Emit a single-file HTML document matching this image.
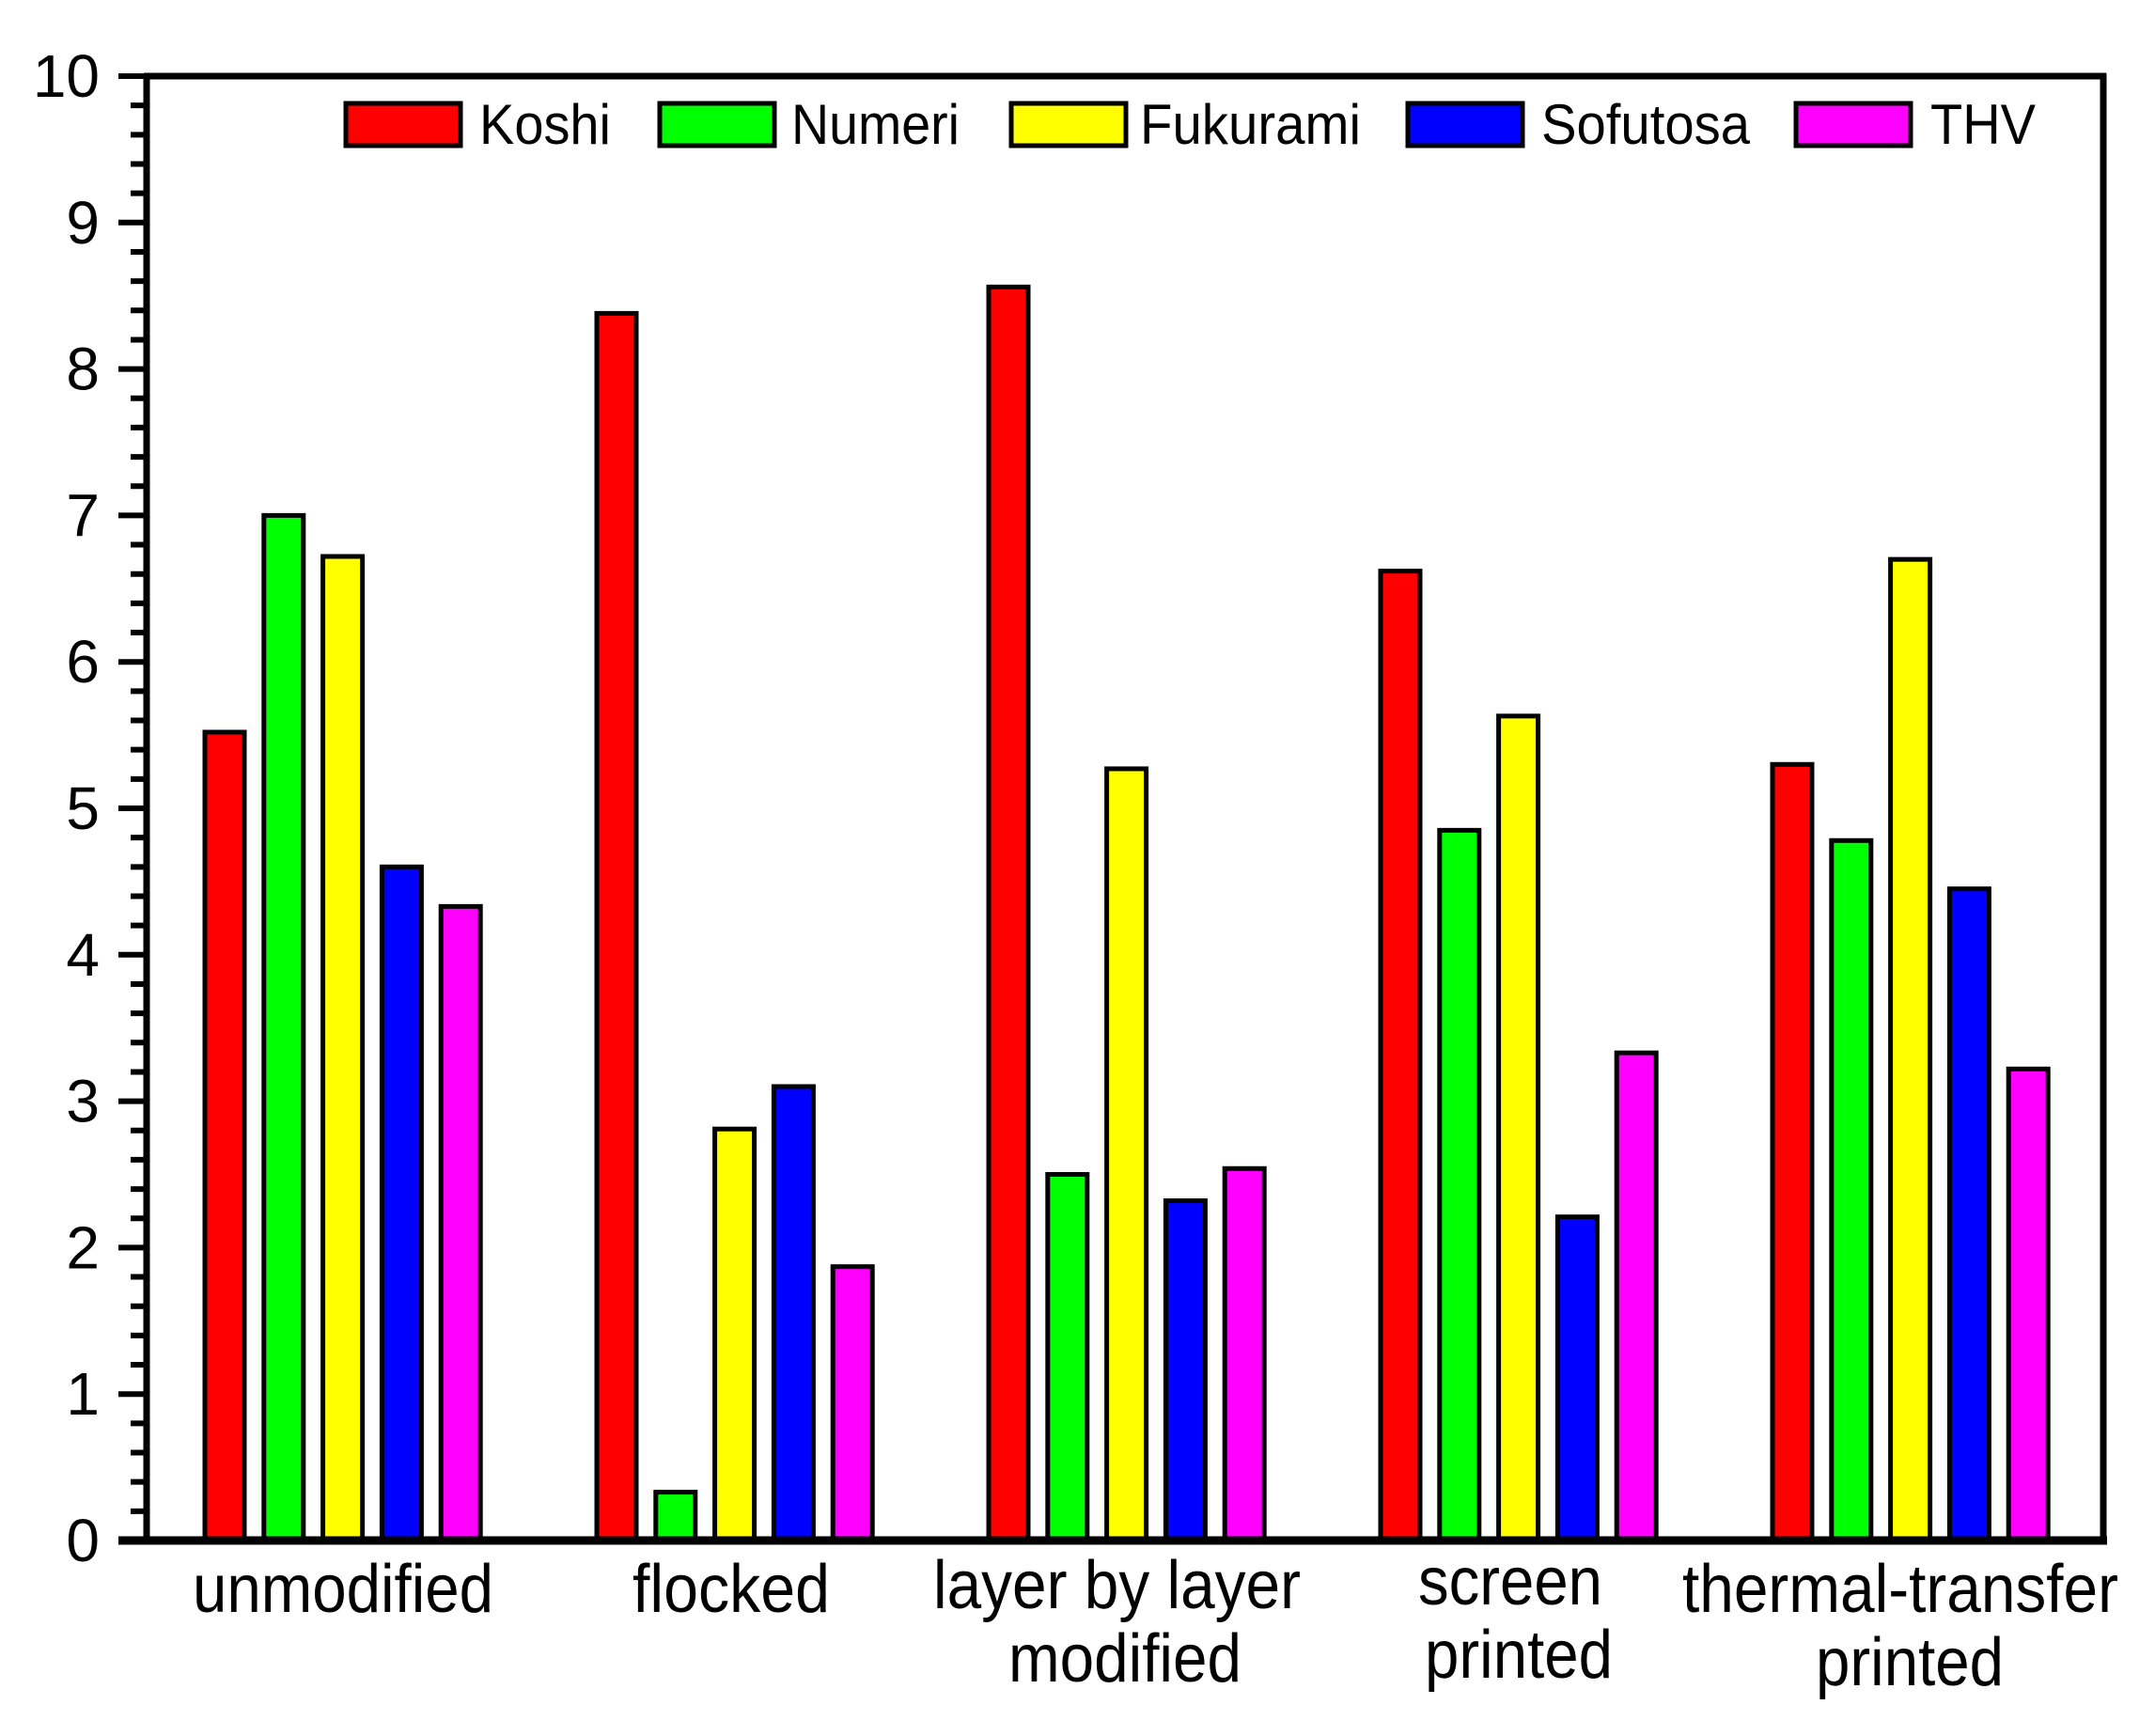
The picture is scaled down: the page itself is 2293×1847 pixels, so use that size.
<!DOCTYPE html>
<html><head><meta charset="utf-8"><style>
html,body{margin:0;padding:0;background:#fff;}
svg{display:block;}
text{font-family:"Liberation Sans",Arial,sans-serif;fill:#000;}
</style></head><body>
<svg width="2293" height="1847" viewBox="0 0 2293 1847" xmlns="http://www.w3.org/2000/svg">
<g id="bars" stroke="#000" stroke-width="5"></g>
<line x1="156" y1="81" x2="156" y2="1639" stroke="#000" stroke-width="7"/>
<line x1="153" y1="81" x2="2241" y2="81" stroke="#000" stroke-width="7"/>
<line x1="2238" y1="78" x2="2238" y2="1639" stroke="#000" stroke-width="7"/>
<line x1="126" y1="1639" x2="2242" y2="1639" stroke="#000" stroke-width="9"/>
<g id="ticks" stroke="#000" stroke-width="6"></g>
<g id="labels" font-size="64" text-anchor="end"></g>
<g stroke="#000" stroke-width="5" font-size="60">
<rect x="368" y="110" width="122" height="45" fill="#ff0000"/>
<text x="510" y="153" stroke="none" textLength="140" lengthAdjust="spacingAndGlyphs">Koshi</text>
<rect x="702" y="110" width="122" height="45" fill="#00ff00"/>
<text x="842" y="153" stroke="none" textLength="179" lengthAdjust="spacingAndGlyphs">Numeri</text>
<rect x="1076" y="110" width="122" height="45" fill="#ffff00"/>
<text x="1213" y="153" stroke="none" textLength="235" lengthAdjust="spacingAndGlyphs">Fukurami</text>
<rect x="1498" y="110" width="122" height="45" fill="#0000ff"/>
<text x="1640" y="153" stroke="none" textLength="222" lengthAdjust="spacingAndGlyphs">Sofutosa</text>
<rect x="1911" y="110" width="122" height="45" fill="#ff00ff"/>
<text x="2054" y="153" stroke="none" textLength="112" lengthAdjust="spacingAndGlyphs">THV</text>
</g>
<g font-size="72">
<text x="205" y="1715" textLength="320" lengthAdjust="spacingAndGlyphs">unmodified</text>
<text x="673" y="1715" textLength="210" lengthAdjust="spacingAndGlyphs">flocked</text>
<text x="993" y="1711" textLength="391" lengthAdjust="spacingAndGlyphs">layer by layer</text>
<text x="1073" y="1789" textLength="248" lengthAdjust="spacingAndGlyphs">modified</text>
<text x="1509" y="1707" textLength="196" lengthAdjust="spacingAndGlyphs">screen</text>
<text x="1516" y="1785" textLength="200" lengthAdjust="spacingAndGlyphs">printed</text>
<text x="1790" y="1715" textLength="464" lengthAdjust="spacingAndGlyphs">thermal-transfer</text>
<text x="1932" y="1793" textLength="200" lengthAdjust="spacingAndGlyphs">printed</text>
</g>
<script>
var ns="http://www.w3.org/2000/svg";
var y0=1639,u=155.8;
var vals=[[5.52,7.0,6.72,4.6,4.33],[8.38,0.33,2.81,3.1,1.87],[8.56,2.5,5.27,2.32,2.54],[6.62,4.85,5.63,2.21,3.33],[5.3,4.78,6.7,4.45,3.22]];
var cols=["#ff0000","#00ff00","#ffff00","#0000ff","#ff00ff"];
var g=document.getElementById("bars");
for(var i=0;i<5;i++)for(var j=0;j<5;j++){var r=document.createElementNS(ns,"rect");var h=vals[i][j]*u;
r.setAttribute("x",218+i*417+j*62.8);r.setAttribute("y",y0-h);r.setAttribute("width",42);r.setAttribute("height",h);r.setAttribute("fill",cols[j]);g.appendChild(r);}
var t=document.getElementById("ticks"),L=document.getElementById("labels");
for(var k=0;k<=50;k++){var y=y0-k*u/5;var l=document.createElementNS(ns,"line");var maj=k%5==0;
l.setAttribute("x1",maj?126:139);l.setAttribute("x2",156);l.setAttribute("y1",y);l.setAttribute("y2",y);t.appendChild(l);
if(maj){var tx=document.createElementNS(ns,"text");tx.setAttribute("x",106);tx.setAttribute("y",y+22);tx.textContent=k/5;L.appendChild(tx);}}
</script>
</svg>
</body></html>
